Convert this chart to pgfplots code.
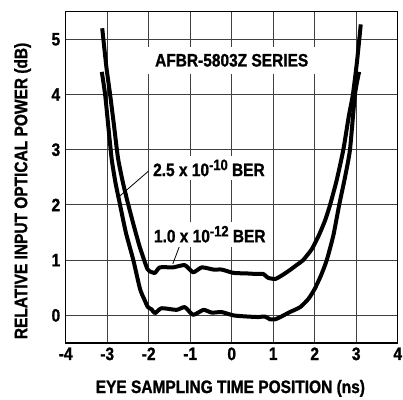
\documentclass[border=0pt]{standalone}
\usepackage{fontspec}
\setmainfont{Liberation Sans}[FakeStretch=0.86,
  BoldFont={Liberation Sans Bold}, BoldFeatures={FakeStretch=0.86, FakeBold=1.2}]
\usepackage{pgfplots}
\pgfplotsset{compat=1.18}

\newcommand{\lbl}{\bfseries\fontsize{18bp}{20bp}\selectfont}
\newcommand{\sups}[1]{\raisebox{6bp}{\fontsize{15bp}{15bp}\selectfont #1}}

\begin{document}
\begin{tikzpicture}
\useasboundingbox (-65.7bp,-57bp) rectangle (337.3bp,343bp);
\begin{axis}[
  at={(0,0)}, anchor=south west,
  width=332bp, height=331.3bp, scale only axis,
  xmin=-4, xmax=4, ymin=-0.5, ymax=5.5,
  xtick={-4,...,4}, ytick={0,...,5},
  major tick length=0pt,
  grid=major,
  major grid style={black!75, line width=1bp},
  axis line style={black, line width=1.5bp},
  /pgf/number format/assume math mode=true,
  ticklabel style={font=\lbl},
  xticklabel style={yshift=-1bp},
  yticklabel style={xshift=-2bp},
  xlabel={EYE SAMPLING TIME POSITION (ns)},
  ylabel={RELATIVE INPUT OPTICAL POWER (dB)},
  label style={font=\lbl},
  xlabel style={at={(axis description cs:0.496,-0.137)}, anchor=center},
  ylabel style={at={(axis description cs:-0.13,0.459)}, anchor=center},
  clip=false,
]
% 1.0 x 10^-12 BER (upper curve)
\addplot[black, line width=4bp, line join=round, line cap=butt, smooth, tension=0.35] coordinates {
(-3.12,5.20) (-3.02,4.50) (-2.93,4.00) (-2.83,3.40) (-2.74,2.85) (-2.62,2.40)
(-2.49,2.00) (-2.35,1.60) (-2.22,1.25) (-2.10,0.98) (-2.03,0.84) (-1.98,0.80)
(-1.85,0.77) (-1.73,0.87) (-1.41,0.87) (-1.13,0.91) (-0.93,0.78) (-0.72,0.87)
(-0.44,0.83) (-0.24,0.83) (0.04,0.77) (0.36,0.76) (0.60,0.75) (0.76,0.75)
(0.88,0.68) (1.05,0.66) (1.20,0.72) (1.40,0.82) (1.58,0.92) (1.72,1.00)
(1.93,1.20) (2.10,1.45) (2.25,1.72) (2.37,2.00) (2.53,2.45) (2.69,3.00)
(2.82,3.60) (2.92,4.00) (3.02,4.60) (3.11,5.27)
};
% 2.5 x 10^-10 BER (lower curve)
\addplot[black, line width=4bp, line join=round, line cap=butt, smooth, tension=0.35] coordinates {
(-3.13,4.41) (-3.05,4.00) (-2.97,3.40) (-2.89,2.82) (-2.80,2.40) (-2.69,2.00)
(-2.55,1.50) (-2.37,1.00) (-2.21,0.48) (-2.10,0.28) (-2.02,0.15) (-1.93,0.11)
(-1.85,0.04) (-1.69,0.13) (-1.33,0.10) (-1.13,0.15) (-0.93,0.01) (-0.68,0.10)
(-0.48,0.05) (-0.24,0.06) (0.04,0.00) (0.36,-0.02) (0.64,-0.03) (0.80,-0.02)
(0.92,-0.07) (1.05,-0.07) (1.20,-0.02) (1.40,0.06) (1.65,0.15) (1.85,0.30)
(2.00,0.48) (2.15,0.72) (2.29,1.00) (2.45,1.45) (2.59,2.00) (2.73,2.50)
(2.85,3.00) (2.97,4.00) (3.07,4.41)
};
\draw[black, line width=0.8bp] (axis cs:-2.01,2.61) -- (axis cs:-2.73,2.14);
\draw[black, line width=0.8bp] (axis cs:-1.25,1.27) -- (axis cs:-1.42,0.93);
\node[fill=white, inner xsep=8bp, inner ysep=7bp, font=\lbl] at (axis cs:0,4.62) {AFBR-5803Z SERIES};
\node[fill=white, anchor=west, inner xsep=3bp, inner ysep=4bp, font=\lbl] at (axis cs:-1.97,2.67) {2.5 x 10\sups{-10} BER};
\node[fill=white, anchor=west, inner xsep=3bp, inner ysep=4bp, font=\lbl] at (axis cs:-1.95,1.47) {1.0 x 10\sups{-12} BER};
\end{axis}
\end{tikzpicture}
\end{document}
